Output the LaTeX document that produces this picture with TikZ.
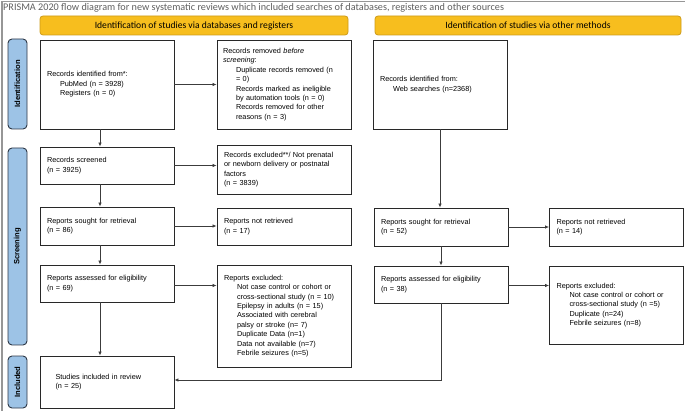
\documentclass[tikz,border=0pt]{standalone}
\usepackage{fontspec}
\setmainfont{Liberation Sans}
\newfontfamily\calibri{Carlito}
\usepackage{tikz}
\usetikzlibrary{positioning}
\usetikzlibrary{arrows.meta}
\definecolor{hdrfill}{RGB}{247,190,30}
\definecolor{hdrline}{RGB}{205,155,25}
\definecolor{sidefill}{RGB}{157,195,230}
\definecolor{sideline}{RGB}{45,55,70}
\definecolor{frameline}{RGB}{150,150,150}
\definecolor{titlegray}{RGB}{95,95,95}
\definecolor{boxline}{RGB}{40,40,40}
\definecolor{arrline}{RGB}{60,60,60}
\newcommand{\indt}{\hspace*{13pt}}

\begin{document}
\begin{tikzpicture}
    [x=1pt, y=-1pt,
     every node/.style={font=\fontsize{7.3}{9.4}\selectfont},
     box/.style={draw=boxline, line width=0.9pt, rectangle, text width=120pt,
       inner xsep=7pt, inner ysep=3pt, align=left},
     header/.style={draw=hdrline, fill=hdrfill, line width=0.8pt, rounded corners=3pt,
       minimum height=19pt, font=\calibri\fontsize{9.6}{11}\selectfont},
     side/.style={draw=sideline, fill=sidefill, line width=0.9pt, rounded corners=4pt,
       rotate=90, minimum height=19pt, inner sep=0pt,
       font=\bfseries\fontsize{7.6}{9}\selectfont},
     arr/.style={draw=arrline, line width=0.7pt, -{Latex[length=4pt,width=3.5pt]}}]
    \useasboundingbox (0,0) rectangle (685,411);
    \draw [frameline, line width=1.2pt] (2,411) -- (2,1.5) -- (685,1.5);
    \node (title) [anchor=west, inner sep=0pt, text=titlegray,
      font=\calibri\fontsize{10.2}{12}\selectfont] at (3,8)
      {PRISMA 2020 flow diagram for new systematic reviews which included searches of databases, registers and other sources};

    \node (hdrdb) [header, minimum width=308pt] at (194,25.5)
      {Identification of studies via databases and registers};
    \node (hdrother) [header, minimum width=306pt] at (528,25.5)
      {Identification of studies via other methods};

    \node (sideid) [side, minimum width=90pt] at (17.5,84) {Identification};
    \node (sidescr) [side, minimum width=197pt] at (17.5,246.5) {Screening};
    \node (sideinc) [side, minimum width=52pt] at (17.5,382) {Included};

    \node (ident) [box, minimum height=89pt] at (107,84.5) {
      Records identified from*:\\
      \indt PubMed (n = 3928)\\
      \indt Registers (n = 0)
    };
    \node (removed) [box, minimum height=89pt, inner xsep=6pt, text width=122pt] at (284,84.5) {
      Records removed \textit{before}\\
      \textit{screening}:\\
      \indt Duplicate records removed (n\\
      \indt = 0)\\
      \indt Records marked as ineligible\\
      \indt by automation tools (n = 0)\\
      \indt Records removed for other\\
      \indt reasons (n = 3)
    };
    \node (web) [box, minimum height=89pt] at (440,84.5) {
      Records identified from:\\
      \indt Web searches (n=2368)
    };

    \node (screened) [box, minimum height=37pt] at (107,165.5) {
      Records screened\\
      (n = 3925)
    };
    \node (excl) [box, minimum height=49pt] at (284,169.5) {
      Records excluded**/ Not prenatal\\
      or newborn delivery or postnatal\\
      factors\\
      (n = 3839)
    };

    \node (sought) [box, minimum height=38pt] at (107,226) {
      Reports sought for retrieval\\
      (n = 86)
    };
    \node (notret) [box, minimum height=37pt] at (284,226.5) {
      Reports not retrieved\\
      (n = 17)
    };
    \node (sought2) [box, minimum height=38pt] at (441,227) {
      Reports sought for retrieval\\
      (n = 52)
    };
    \node (notret2) [box, minimum height=38pt] at (616.5,227) {
      Reports not retrieved\\
      (n = 14)
    };

    \node (assessed) [box, minimum height=37pt] at (107,283.5) {
      Reports assessed for eligibility\\
      (n = 69)
    };
    \node (repexcl) [box, minimum height=102pt] at (284,316) {
      Reports excluded:\\
      \indt Not case control or cohort or\\
      \indt cross-sectional study (n = 10)\\
      \indt Epilepsy in adults (n = 15)\\
      \indt Associated with cerebral\\
      \indt palsy or stroke (n= 7)\\
      \indt Duplicate Data (n=1)\\
      \indt Data not available (n=7)\\
      \indt Febrile seizures (n=5)
    };
    \node (assessed2) [box, minimum height=37pt] at (441,284.5) {
      Reports assessed for eligibility\\
      (n = 38)
    };
    \node (repexcl2) [box, minimum height=78pt] at (616.5,305) {
      Reports excluded:\\
      \indt Not case control or cohort or\\
      \indt cross-sectional study (n =5)\\
      \indt Duplicate (n=24)\\
      \indt Febrile seizures (n=8)
    };

    \node (included) [box, minimum height=52pt, text width=103pt, inner xsep=15.5pt] at (107,382) {
      Studies included in review\\
      (n = 25)
    };

    \draw [arr] (ident.east) -- (removed.west);
    \draw [arr] ([xshift=-7pt]ident.south) -- ([xshift=-7pt]screened.north);
    \draw [arr] (screened.east) -- (screened.east -| excl.west);
    \draw [arr] ([xshift=-7pt]screened.south) -- ([xshift=-7pt]sought.north);
    \draw [arr] (sought.east) -- (sought.east -| notret.west);
    \draw [arr] ([xshift=-7pt]sought.south) -- ([xshift=-7pt]assessed.north);
    \draw [arr] ([yshift=-2pt]assessed.east) -- ([yshift=-2pt]assessed.east -| repexcl.west);
    \draw [arr] ([xshift=-7pt]assessed.south) -- ([xshift=-7pt]included.north);

    \draw [arr] (web.south) -- (web.south |- sought2.north);
    \draw [arr] (sought2.east) -- (notret2.west);
    \draw [arr] (sought2.south) -- (assessed2.north);
    \draw [arr] ([yshift=-1pt]assessed2.east) -- ([yshift=-1pt]assessed2.east -| repexcl2.west);
    \draw [arr] (assessed2.south) |- ([yshift=2pt]included.east);
  \end{tikzpicture}
\end{document}
